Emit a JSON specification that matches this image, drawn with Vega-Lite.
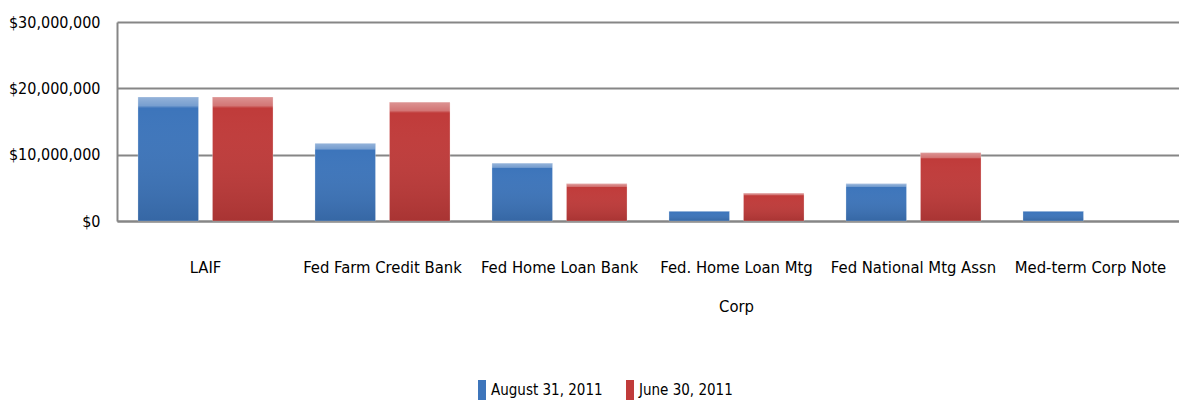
{
  "$schema": "https://vega.github.io/schema/vega-lite/v6.json",
  "width": 1062,
  "height": 199,
  "autosize": "none",
  "padding": {"left": 117, "top": 22, "right": 0, "bottom": 182},
  "background": "white",
  "config": {
    "view": {"stroke": null},
    "font": "DejaVu Sans Condensed, Liberation Sans, sans-serif"
  },
  "data": {
    "values": [
      {"category": "LAIF", "series": "August 31, 2011", "value": 18700000},
      {"category": "LAIF", "series": "June 30, 2011", "value": 18700000},
      {"category": "Fed Farm Credit Bank", "series": "August 31, 2011", "value": 11700000},
      {"category": "Fed Farm Credit Bank", "series": "June 30, 2011", "value": 17900000},
      {"category": "Fed Home Loan Bank", "series": "August 31, 2011", "value": 8700000},
      {"category": "Fed Home Loan Bank", "series": "June 30, 2011", "value": 5600000},
      {"category": "Fed. Home Loan Mtg Corp", "series": "August 31, 2011", "value": 1500000},
      {"category": "Fed. Home Loan Mtg Corp", "series": "June 30, 2011", "value": 4200000},
      {"category": "Fed National Mtg Assn", "series": "August 31, 2011", "value": 5600000},
      {"category": "Fed National Mtg Assn", "series": "June 30, 2011", "value": 10300000},
      {"category": "Med-term Corp Note", "series": "August 31, 2011", "value": 1500000}
    ]
  },
  "encoding": {
    "x": {
      "field": "category",
      "type": "nominal",
      "sort": null,
      "title": null,
      "scale": {"paddingInner": 0.237, "paddingOuter": 0.1185},
      "axis": {
        "labelAngle": 0,
        "labelFontSize": 16.5,
        "labelColor": "#000000",
        "labelPadding": 38,
        "labelLineHeight": 39,
        "labelLimit": 300,
        "ticks": false,
        "domain": true,
        "domainColor": "#868686",
        "domainWidth": 2,
        "labelExpr": "datum.value == 'Fed. Home Loan Mtg Corp' ? ['Fed. Home Loan Mtg', 'Corp'] : datum.value"
      }
    },
    "xOffset": {
      "field": "series",
      "type": "nominal",
      "sort": ["August 31, 2011", "June 30, 2011"],
      "scale": {"domain": ["August 31, 2011", "June 30, 2011"], "paddingInner": 0.188, "paddingOuter": 0}
    },
    "y": {
      "field": "value",
      "type": "quantitative",
      "title": null,
      "scale": {"domain": [0, 30000000], "nice": false},
      "axis": {
        "values": [0, 10000000, 20000000, 30000000],
        "format": "$,.0f",
        "labelFontSize": 16,
        "labelColor": "#000000",
        "labelPadding": 17,
        "ticks": false,
        "domain": true,
        "domainColor": "#868686",
        "domainWidth": 2,
        "grid": true,
        "gridColor": "#868686",
        "gridWidth": 2
      }
    }
  },
  "layer": [
    {
      "mark": {"type": "bar", "stroke": "#ffffff", "strokeOpacity": 0.25, "strokeWidth": 1},
      "encoding": {
        "color": {
          "field": "series",
          "type": "nominal",
          "sort": ["August 31, 2011", "June 30, 2011"],
          "scale": {"domain": ["August 31, 2011", "June 30, 2011"], "range": ["#3d75bb", "#c03b3a"]},
          "legend": {
            "title": null,
            "orient": "none",
            "legendX": 355,
            "legendY": 358,
            "direction": "horizontal",
            "padding": 0,
            "symbolType": "M-0.4,-1H0.4V1H-0.4Z",
            "symbolSize": 400,
            "symbolStrokeWidth": 0,
            "symbolOpacity": 1,
            "labelFontSize": 15,
            "labelColor": "#000000",
            "labelOffset": -1,
            "columnPadding": 17
          }
        }
      }
    },
    {
      "mark": {
        "type": "bar",
        "fill": {
          "gradient": "linear",
          "x1": 0, "y1": 0, "x2": 0, "y2": 1,
          "stops": [
            {"offset": 0, "color": "rgba(255,255,255,0.45)"},
            {"offset": 0.07, "color": "rgba(255,255,255,0.3)"},
            {"offset": 0.09, "color": "rgba(255,255,255,0.0)"},
            {"offset": 1, "color": "rgba(0,0,0,0.12)"}
          ]
        }
      },
      "encoding": {}
    }
  ]
}
